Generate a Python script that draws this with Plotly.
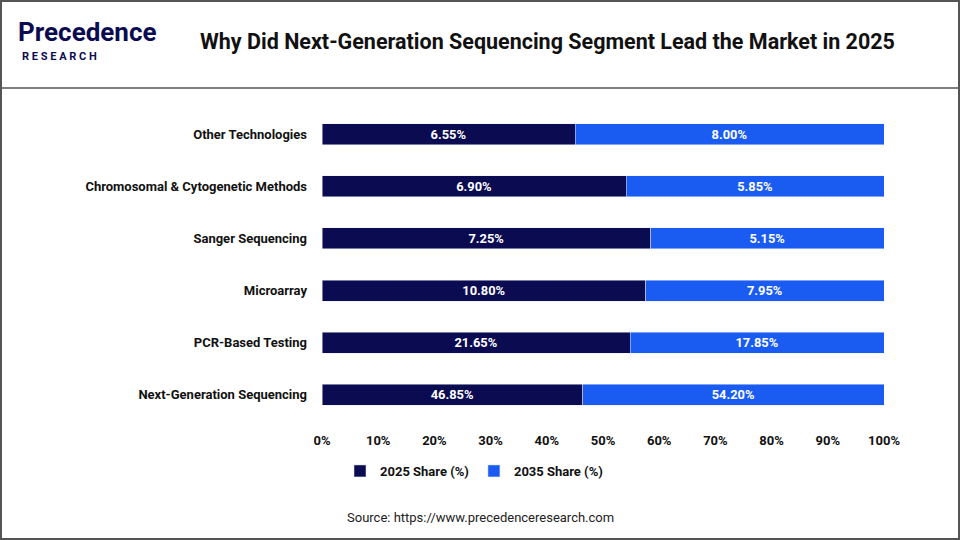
import plotly.graph_objects as go

categories = ["Next-Generation Sequencing", "PCR-Based Testing", "Microarray",
              "Sanger Sequencing", "Chromosomal & Cytogenetic Methods", "Other Technologies"]
share_2025 = [46.85, 21.65, 10.80, 7.25, 6.90, 6.55]
share_2035 = [54.20, 17.85, 7.95, 5.15, 5.85, 8.00]
tick_vals = [0, 10, 20, 30, 40, 50, 60, 70, 80, 90, 100]

L, R, T, B = 322, 76, 108, 119
W, H = 960, 540
pw, ph = W - L - R, H - T - B
def px(x): return (x - L) / pw
def py(y): return (H - B - y) / ph

fig = go.Figure()
fig.add_bar(y=categories, x=share_2025, orientation="h", name="<b>2025 Share (%)</b>",
            marker_color="#0b0b52", text=[f"<b>{v:.2f}%</b>" for v in share_2025],
            textposition="inside", insidetextanchor="middle",
            textfont=dict(color="white", size=13, family="Roboto"))
fig.add_bar(y=categories, x=share_2035, orientation="h", name="<b>2035 Share (%)</b>",
            marker_color="#1a5cf2", text=[f"<b>{v:.2f}%</b>" for v in share_2035],
            textposition="inside", insidetextanchor="middle",
            textfont=dict(color="white", size=13, family="Roboto"))

fig.update_layout(
    width=W, height=H, barmode="stack", barnorm="percent", bargap=0.6,
    margin=dict(l=L, r=R, t=T, b=B), plot_bgcolor="white", paper_bgcolor="white",
    font=dict(family="Roboto", color="#222", size=13),
    uniformtext=dict(mode="show", minsize=10),
    xaxis=dict(range=[0, 100], tickvals=tick_vals, ticktext=[f"<b>{v}%</b>" for v in tick_vals],
               showgrid=False, zeroline=False, tickfont=dict(size=13, color="#111"),
               ticks="", ticklen=0, ticklabelstandoff=10),
    yaxis=dict(showgrid=False, ticks="", ticklabelstandoff=14,
               tickvals=categories, ticktext=[f"<b>{c}</b>" for c in categories],
               tickfont=dict(size=13, color="#111")),
    legend=dict(orientation="h", x=px(340), y=py(456), xanchor="left", yanchor="top",
                traceorder="normal", font=dict(size=13, color="#111")),
    showlegend=True,
)
fig.update_traces(cliponaxis=False)

shapes = [
    dict(type="rect", xref="paper", yref="paper", x0=px(1), x1=px(959), y0=py(539), y1=py(1),
         line=dict(color="#555", width=2), fillcolor="rgba(0,0,0,0)", layer="below"),
    dict(type="line", xref="paper", yref="paper", x0=px(1), x1=px(959), y0=py(88), y1=py(88),
         line=dict(color="#555", width=1.5)),
]
fig.update_layout(shapes=shapes)

ann = [
    dict(text="<b>Why Did Next-Generation Sequencing Segment Lead the Market in 2025</b>",
         x=px(547), y=py(42), font=dict(size=21.5, color="#111", family="Roboto")),
    dict(text="<b>Precedence</b>", x=px(16), y=py(32), xanchor="left",
         font=dict(size=26, color="#0b0b52", family="Roboto")),
    dict(text="<b>R E S E A R C H</b>", x=px(20), y=py(56), xanchor="left",
         font=dict(size=11, color="#0b0b52", family="Roboto")),
    dict(text="Source: https://www.precedenceresearch.com", x=px(480), y=py(517),
         font=dict(size=13, color="#222", family="Roboto")),
]
for a in ann:
    a.update(xref="paper", yref="paper", showarrow=False, yanchor="middle")
    a.setdefault("xanchor", "center")
fig.update_layout(annotations=ann)

fig.write_html("out.html", config={"displayModeBar": False},
               post_script="document.body.style.margin='0';document.body.style.overflow='hidden';")
